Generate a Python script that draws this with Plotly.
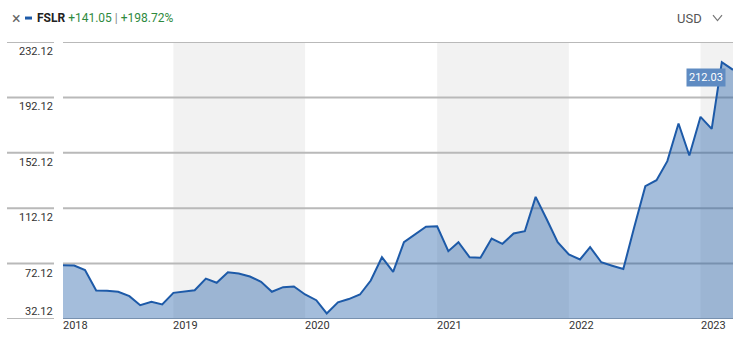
import pandas as pd
import plotly.graph_objects as go

ticker = "FSLR"
change_abs = "+141.05"
change_pct = "+198.72%"
currency = "USD"

dates = pd.date_range("2018-03-01", "2023-04-01", freq="MS")
prices = [
    70.98, 70.7, 67.4, 52.7, 52.5, 51.8, 48.6, 42.1, 44.5, 42.6,
    51.0, 52.2, 52.9, 61.3, 58.3, 65.9, 65.0, 62.8, 59.0, 51.8, 55.1, 55.6,
    49.8, 45.7, 36.1, 44.2, 46.5, 49.8, 59.9, 76.7, 66.2, 87.6, 93.1, 98.7,
    99.1, 81.1, 87.6, 76.7, 76.3, 90.2, 86.4, 93.9, 95.5, 120.3, 104.0, 87.6,
    78.7, 75.1, 84.0, 73.1, 70.6, 68.2, 98.2, 128.0, 132.3, 146.1, 173.3, 150.2,
    178.1, 169.4, 217.5, 212.03,
]
y_ticks = [32.12, 72.12, 112.12, 152.12, 192.12, 232.12]
year_labels = ["2018", "2019", "2020", "2021", "2022", "2023"]
shaded_years = [2019, 2021, 2023]

FONT = "Roboto, Arial, sans-serif"
W, H = 746, 342
ML, MR, MT, MB = 63, 13, 42, 22.5
PW, PH = W - ML - MR, H - MT - MB


def px_x(p):
    return (p - ML) / PW


def px_y(p):
    return (H - MB - p) / PH


x_start, x_end = dates[0], dates[-1]

fig = go.Figure()
fig.add_trace(go.Scatter(
    x=dates, y=prices, mode="lines",
    line=dict(color="#1d5aa8", width=2),
    fill="tozeroy", fillcolor="rgba(16,81,161,0.38)",
    hoverinfo="skip",
))

shapes = []
for yr in shaded_years:
    x0 = max(pd.Timestamp(f"{yr}-01-01"), x_start)
    x1 = min(pd.Timestamp(f"{yr + 1}-01-01"), x_end)
    shapes.append(dict(type="rect", xref="x", yref="paper", x0=x0, x1=x1, y0=0, y1=1,
                       fillcolor="#f2f2f2", line=dict(width=0), layer="below"))
for t in y_ticks:
    shapes.append(dict(type="line", xref="paper", yref="y", x0=0, x1=1, y0=t, y1=t,
                       line=dict(color="#b9b9b9", width=2), layer="below"))
    shapes.append(dict(type="line", xref="paper", yref="y", x0=px_x(7), x1=px_x(54), y0=t, y1=t,
                       line=dict(color="#b9b9b9", width=2), layer="below"))
# legend dash in header
shapes.append(dict(type="line", xref="paper", yref="paper", x0=px_x(25), x1=px_x(32),
                   y0=px_y(18), y1=px_y(18), line=dict(color="#1d5aa8", width=3)))
# chevron next to currency
shapes.append(dict(type="path", xref="paper", yref="paper",
                   path=(f"M {px_x(713)} {px_y(15)} L {px_x(717.5)} {px_y(20.5)} "
                         f"L {px_x(722)} {px_y(15)}"),
                   line=dict(color="#777", width=1.2)))

annotations = []
for t in y_ticks:
    shift = 7.5 if t == y_ticks[0] else -9.5
    annotations.append(dict(xref="paper", yref="y", x=px_x(55), y=t, yshift=shift,
                            xanchor="right", yanchor="middle", showarrow=False,
                            text=f"{t:.2f}", font=dict(family=FONT, size=11, color="#333")))
for lab in year_labels:
    xd = max(pd.Timestamp(f"{lab}-01-01"), x_start)
    annotations.append(dict(xref="x", yref="paper", x=xd, y=px_y(326),
                            xanchor="left", yanchor="middle", showarrow=False, xshift=-2,
                            text=lab, font=dict(family=FONT, size=11, color="#333")))

annotations.append(dict(xref="paper", yref="paper", x=px_x(16), y=px_y(18),
                        xanchor="center", yanchor="middle", showarrow=False,
                        text="×", font=dict(family=FONT, size=16, color="#666")))
annotations.append(dict(xref="paper", yref="paper", x=px_x(35), y=px_y(18),
                        xanchor="left", yanchor="middle", showarrow=False,
                        text=(f"<b>{ticker}</b> <span style='color:#2e8a3e'>{change_abs}</span>"
                              f" <span style='color:#888'>|</span> "
                              f"<span style='color:#2e8a3e'>{change_pct}</span>"),
                        font=dict(family=FONT, size=12, color="#222")))
annotations.append(dict(xref="paper", yref="paper", x=px_x(704), y=px_y(18),
                        xanchor="right", yanchor="middle", showarrow=False,
                        text=currency, font=dict(family=FONT, size=13, color="#555")))
annotations.append(dict(xref="paper", yref="y", x=px_x(726), y=prices[-1], yshift=-8,
                        xanchor="right", yanchor="middle", showarrow=False,
                        text=f"{prices[-1]:.2f}", bgcolor="#5f8bc2", borderpad=2,
                        font=dict(family=FONT, size=11, color="white")))

fig.update_layout(
    width=W, height=H,
    margin=dict(l=ML, r=MR, t=MT, b=MB),
    paper_bgcolor="white", plot_bgcolor="white",
    showlegend=False,
    xaxis=dict(range=[x_start, x_end], showgrid=False, showticklabels=False,
               zeroline=False, showline=False, fixedrange=True),
    yaxis=dict(range=[y_ticks[0], y_ticks[-1]], showgrid=False, showticklabels=False,
               zeroline=False, showline=False, fixedrange=True),
    shapes=shapes, annotations=annotations,
)
fig.write_html("out.html")
